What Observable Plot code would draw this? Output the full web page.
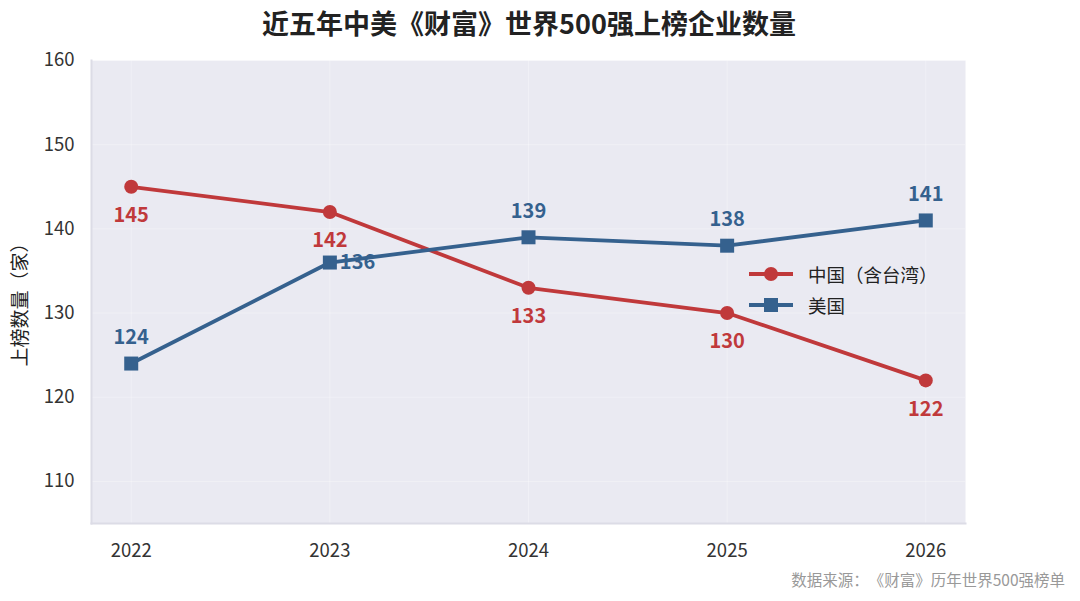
<!DOCTYPE html>
<html>
<head>
<meta charset="utf-8">
<script src="https://cdn.jsdelivr.net/npm/d3@7"></script>
<script src="https://cdn.jsdelivr.net/npm/@observablehq/plot@0.6"></script>
<style>
  html, body { margin: 0; padding: 0; background: #fff; }
  body { font-family: "Noto Sans CJK SC", "Noto Sans", sans-serif; text-spacing-trim: space-all; }
  svg, svg text { text-spacing-trim: space-all; }
  #wrap { position: relative; width: 1080px; height: 601px; overflow: hidden; }
  #title { position: absolute; left: 0; top: 0; width: 1058px; height: 46px; line-height: 46px; text-align: center; font-size: 27px; font-weight: 700; color: #222; }
  #chart { position: absolute; left: 0; top: 40px; }
  #caption { position: absolute; right: 15px; top: 568px; font-size: 15.5px; color: #999; line-height: 22px; }
  #legend { position: absolute; left: 748px; top: 258px; font-size: 18.5px; color: #222; }
  #legend .row { display: flex; align-items: center; height: 31px; }
  #legend svg { margin-right: 14px; }
</style>
</head>
<body>
<div id="wrap">
  <div id="chart"></div>
  <div id="title">近五年中美《财富》世界500强上榜企业数量</div>
  <div id="legend"></div>
  <div id="caption">数据来源：《财富》历年世界500强榜单</div>
</div>
<script>
const years = [2022, 2023, 2024, 2025, 2026];
const chinaValues = [145, 142, 133, 130, 122];
const usaValues = [124, 136, 139, 138, 141];
const yTicks = [110, 120, 130, 140, 150, 160];
const seriesNames = ["中国（含台湾）", "美国"];
const seriesColors = ["#C0393B", "#35618E"];
const yLabel = "上榜数量（家）";

const china = years.map((y, i) => ({year: y, value: chinaValues[i], series: seriesNames[0], i}));
const usa = years.map((y, i) => ({year: y, value: usaValues[i], series: seriesNames[1], i}));
const usaAbove = usa.filter(d => d.i !== 1);
const usaRight = usa.filter(d => d.i === 1);

const font = '"Noto Sans CJK SC", "Noto Sans", sans-serif';

const chart = Plot.plot({
  width: 1080,
  height: 530,
  marginLeft: 91,
  marginRight: 115,
  marginTop: 20,
  marginBottom: 47,
  style: {fontFamily: font, fontSize: "18px", color: "#333", background: "transparent", overflow: "visible"},
  x: {domain: [2021.8, 2026.2], ticks: years, tickFormat: d => String(d), tickSize: 0, tickPadding: 20, label: null},
  y: {domain: [105, 160], ticks: yTicks, tickSize: 0, tickPadding: 17, label: null},
  marks: [
    Plot.frame({fill: "#EAEAF2"}),
    Plot.gridY(yTicks, {stroke: "#fff", strokeOpacity: 0.3, strokeWidth: 1}),
    Plot.gridX(years, {stroke: "#fff", strokeOpacity: 0.3, strokeWidth: 1}),
    Plot.frame({anchor: "left", stroke: "#DCDCE6", strokeWidth: 2}),
    Plot.frame({anchor: "bottom", stroke: "#DCDCE6", strokeWidth: 2}),
    Plot.axisX({fontSize: 18.5, tickSize: 0, tickPadding: 20, ticks: years, tickFormat: d => String(d), label: null}),
    Plot.axisY({fontSize: 18.5, tickSize: 0, tickPadding: 17, ticks: yTicks, label: null}),
    Plot.text([yLabel], {frameAnchor: "left", textAnchor: "middle", dx: -71, dy: 8, rotate: -90, fontSize: 19, fill: "#222", text: d => d}),
    Plot.line(china, {x: "year", y: "value", stroke: seriesColors[0], strokeWidth: 3.8}),
    Plot.line(usa, {x: "year", y: "value", stroke: seriesColors[1], strokeWidth: 3.8}),
    Plot.dot(china, {x: "year", y: "value", r: 7, symbol: "circle", fill: seriesColors[0], stroke: "none"}),
    Plot.dot(usa, {x: "year", y: "value", r: 7.9, symbol: "square", fill: seriesColors[1], stroke: "none"}),
    Plot.text(china, {x: "year", y: "value", text: d => String(d.value), dy: 29, fill: seriesColors[0], fontSize: 20, fontWeight: 700}),
    Plot.text(usaAbove, {x: "year", y: "value", text: d => String(d.value), dy: -26, fill: seriesColors[1], fontSize: 20, fontWeight: 700}),
    Plot.text(usaRight, {x: "year", y: "value", text: d => String(d.value), dx: 10, textAnchor: "start", fill: seriesColors[1], fontSize: 20, fontWeight: 700})
  ]
});
document.getElementById("chart").appendChild(chart);

// legend
const legend = d3.select("#legend");
seriesNames.forEach((name, k) => {
  const row = legend.append("div").attr("class", "row");
  const s = row.append("svg").attr("width", 46).attr("height", 20);
  s.append("line").attr("x1", 1).attr("x2", 45).attr("y1", 10).attr("y2", 10)
    .attr("stroke", seriesColors[k]).attr("stroke-width", 3.8);
  if (k === 0) s.append("circle").attr("cx", 23).attr("cy", 10).attr("r", 7).attr("fill", seriesColors[k]);
  else s.append("rect").attr("x", 16).attr("y", 3).attr("width", 14).attr("height", 14).attr("fill", seriesColors[k]);
  row.append("span").text(name);
});
</script>
</body>
</html>
